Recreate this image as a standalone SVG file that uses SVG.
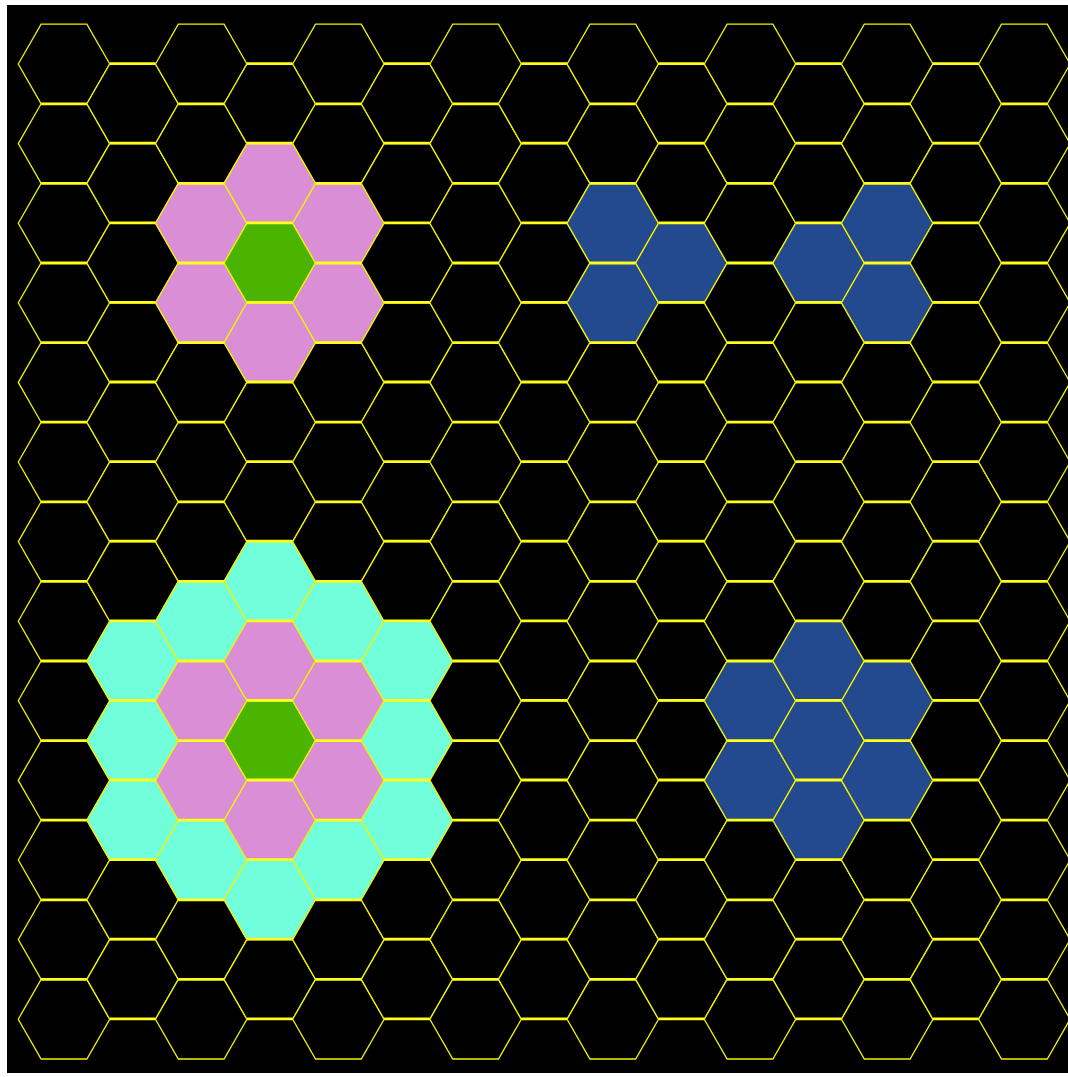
<svg xmlns="http://www.w3.org/2000/svg" xmlns:xlink="http://www.w3.org/1999/xlink" width="1068" height="1077" viewBox="0 0 1068 1077">
<style>
.k{fill:#000}.p{fill:#DA8ED6}.g{fill:#4AB400}.c{fill:#70FFDA}.b{fill:#234A8F}
.thk{fill:none;stroke:#FFFF1A;stroke-width:2.8;stroke-dasharray:45.74 91.46}
</style>
<defs>
<polygon id="h" points="-45.73,0 -22.87,-39.8 22.87,-39.8 45.73,0 22.87,39.8 -22.87,39.8" stroke="#F2F200" stroke-width="1.3" stroke-linejoin="miter"/>
</defs>
<rect x="0" y="0" width="1068" height="1077" fill="#fff"/>
<rect x="7" y="5" width="1061" height="1068" fill="#000"/>
<g id="grid">
<g id="h0-0"><use href="#h" x="64" y="64" class="k"/></g>
<g id="h0-1"><use href="#h" x="64" y="143.6" class="k"/></g>
<g id="h0-2"><use href="#h" x="64" y="223.2" class="k"/></g>
<g id="h0-3"><use href="#h" x="64" y="302.8" class="k"/></g>
<g id="h0-4"><use href="#h" x="64" y="382.4" class="k"/></g>
<g id="h0-5"><use href="#h" x="64" y="462" class="k"/></g>
<g id="h0-6"><use href="#h" x="64" y="541.6" class="k"/></g>
<g id="h0-7"><use href="#h" x="64" y="621.2" class="k"/></g>
<g id="h0-8"><use href="#h" x="64" y="700.8" class="k"/></g>
<g id="h0-9"><use href="#h" x="64" y="780.4" class="k"/></g>
<g id="h0-10"><use href="#h" x="64" y="860" class="k"/></g>
<g id="h0-11"><use href="#h" x="64" y="939.6" class="k"/></g>
<g id="h0-12"><use href="#h" x="64" y="1019.2" class="k"/></g>

<g id="h1-0"><use href="#h" x="132.6" y="103.8" class="k"/></g>
<g id="h1-1"><use href="#h" x="132.6" y="183.4" class="k"/></g>
<g id="h1-2"><use href="#h" x="132.6" y="263" class="k"/></g>
<g id="h1-3"><use href="#h" x="132.6" y="342.6" class="k"/></g>
<g id="h1-4"><use href="#h" x="132.6" y="422.2" class="k"/></g>
<g id="h1-5"><use href="#h" x="132.6" y="501.8" class="k"/></g>
<g id="h1-6"><use href="#h" x="132.6" y="581.4" class="k"/></g>
<g id="h1-7"><use href="#h" x="132.6" y="661" class="c"/></g>
<g id="h1-8"><use href="#h" x="132.6" y="740.6" class="c"/></g>
<g id="h1-9"><use href="#h" x="132.6" y="820.2" class="c"/></g>
<g id="h1-10"><use href="#h" x="132.6" y="899.8" class="k"/></g>
<g id="h1-11"><use href="#h" x="132.6" y="979.4" class="k"/></g>

<g id="h2-0"><use href="#h" x="201.2" y="64" class="k"/></g>
<g id="h2-1"><use href="#h" x="201.2" y="143.6" class="k"/></g>
<g id="h2-2"><use href="#h" x="201.2" y="223.2" class="p"/></g>
<g id="h2-3"><use href="#h" x="201.2" y="302.8" class="p"/></g>
<g id="h2-4"><use href="#h" x="201.2" y="382.4" class="k"/></g>
<g id="h2-5"><use href="#h" x="201.2" y="462" class="k"/></g>
<g id="h2-6"><use href="#h" x="201.2" y="541.6" class="k"/></g>
<g id="h2-7"><use href="#h" x="201.2" y="621.2" class="c"/></g>
<g id="h2-8"><use href="#h" x="201.2" y="700.8" class="p"/></g>
<g id="h2-9"><use href="#h" x="201.2" y="780.4" class="p"/></g>
<g id="h2-10"><use href="#h" x="201.2" y="860" class="c"/></g>
<g id="h2-11"><use href="#h" x="201.2" y="939.6" class="k"/></g>
<g id="h2-12"><use href="#h" x="201.2" y="1019.2" class="k"/></g>

<g id="h3-0"><use href="#h" x="269.8" y="103.8" class="k"/></g>
<g id="h3-1"><use href="#h" x="269.8" y="183.4" class="p"/></g>
<g id="h3-2"><use href="#h" x="269.8" y="263" class="g"/></g>
<g id="h3-3"><use href="#h" x="269.8" y="342.6" class="p"/></g>
<g id="h3-4"><use href="#h" x="269.8" y="422.2" class="k"/></g>
<g id="h3-5"><use href="#h" x="269.8" y="501.8" class="k"/></g>
<g id="h3-6"><use href="#h" x="269.8" y="581.4" class="c"/></g>
<g id="h3-7"><use href="#h" x="269.8" y="661" class="p"/></g>
<g id="h3-8"><use href="#h" x="269.8" y="740.6" class="g"/></g>
<g id="h3-9"><use href="#h" x="269.8" y="820.2" class="p"/></g>
<g id="h3-10"><use href="#h" x="269.8" y="899.8" class="c"/></g>
<g id="h3-11"><use href="#h" x="269.8" y="979.4" class="k"/></g>

<g id="h4-0"><use href="#h" x="338.4" y="64" class="k"/></g>
<g id="h4-1"><use href="#h" x="338.4" y="143.6" class="k"/></g>
<g id="h4-2"><use href="#h" x="338.4" y="223.2" class="p"/></g>
<g id="h4-3"><use href="#h" x="338.4" y="302.8" class="p"/></g>
<g id="h4-4"><use href="#h" x="338.4" y="382.4" class="k"/></g>
<g id="h4-5"><use href="#h" x="338.4" y="462" class="k"/></g>
<g id="h4-6"><use href="#h" x="338.4" y="541.6" class="k"/></g>
<g id="h4-7"><use href="#h" x="338.4" y="621.2" class="c"/></g>
<g id="h4-8"><use href="#h" x="338.4" y="700.8" class="p"/></g>
<g id="h4-9"><use href="#h" x="338.4" y="780.4" class="p"/></g>
<g id="h4-10"><use href="#h" x="338.4" y="860" class="c"/></g>
<g id="h4-11"><use href="#h" x="338.4" y="939.6" class="k"/></g>
<g id="h4-12"><use href="#h" x="338.4" y="1019.2" class="k"/></g>

<g id="h5-0"><use href="#h" x="407" y="103.8" class="k"/></g>
<g id="h5-1"><use href="#h" x="407" y="183.4" class="k"/></g>
<g id="h5-2"><use href="#h" x="407" y="263" class="k"/></g>
<g id="h5-3"><use href="#h" x="407" y="342.6" class="k"/></g>
<g id="h5-4"><use href="#h" x="407" y="422.2" class="k"/></g>
<g id="h5-5"><use href="#h" x="407" y="501.8" class="k"/></g>
<g id="h5-6"><use href="#h" x="407" y="581.4" class="k"/></g>
<g id="h5-7"><use href="#h" x="407" y="661" class="c"/></g>
<g id="h5-8"><use href="#h" x="407" y="740.6" class="c"/></g>
<g id="h5-9"><use href="#h" x="407" y="820.2" class="c"/></g>
<g id="h5-10"><use href="#h" x="407" y="899.8" class="k"/></g>
<g id="h5-11"><use href="#h" x="407" y="979.4" class="k"/></g>

<g id="h6-0"><use href="#h" x="475.6" y="64" class="k"/></g>
<g id="h6-1"><use href="#h" x="475.6" y="143.6" class="k"/></g>
<g id="h6-2"><use href="#h" x="475.6" y="223.2" class="k"/></g>
<g id="h6-3"><use href="#h" x="475.6" y="302.8" class="k"/></g>
<g id="h6-4"><use href="#h" x="475.6" y="382.4" class="k"/></g>
<g id="h6-5"><use href="#h" x="475.6" y="462" class="k"/></g>
<g id="h6-6"><use href="#h" x="475.6" y="541.6" class="k"/></g>
<g id="h6-7"><use href="#h" x="475.6" y="621.2" class="k"/></g>
<g id="h6-8"><use href="#h" x="475.6" y="700.8" class="k"/></g>
<g id="h6-9"><use href="#h" x="475.6" y="780.4" class="k"/></g>
<g id="h6-10"><use href="#h" x="475.6" y="860" class="k"/></g>
<g id="h6-11"><use href="#h" x="475.6" y="939.6" class="k"/></g>
<g id="h6-12"><use href="#h" x="475.6" y="1019.2" class="k"/></g>

<g id="h7-0"><use href="#h" x="544.2" y="103.8" class="k"/></g>
<g id="h7-1"><use href="#h" x="544.2" y="183.4" class="k"/></g>
<g id="h7-2"><use href="#h" x="544.2" y="263" class="k"/></g>
<g id="h7-3"><use href="#h" x="544.2" y="342.6" class="k"/></g>
<g id="h7-4"><use href="#h" x="544.2" y="422.2" class="k"/></g>
<g id="h7-5"><use href="#h" x="544.2" y="501.8" class="k"/></g>
<g id="h7-6"><use href="#h" x="544.2" y="581.4" class="k"/></g>
<g id="h7-7"><use href="#h" x="544.2" y="661" class="k"/></g>
<g id="h7-8"><use href="#h" x="544.2" y="740.6" class="k"/></g>
<g id="h7-9"><use href="#h" x="544.2" y="820.2" class="k"/></g>
<g id="h7-10"><use href="#h" x="544.2" y="899.8" class="k"/></g>
<g id="h7-11"><use href="#h" x="544.2" y="979.4" class="k"/></g>

<g id="h8-0"><use href="#h" x="612.8" y="64" class="k"/></g>
<g id="h8-1"><use href="#h" x="612.8" y="143.6" class="k"/></g>
<g id="h8-2"><use href="#h" x="612.8" y="223.2" class="b"/></g>
<g id="h8-3"><use href="#h" x="612.8" y="302.8" class="b"/></g>
<g id="h8-4"><use href="#h" x="612.8" y="382.4" class="k"/></g>
<g id="h8-5"><use href="#h" x="612.8" y="462" class="k"/></g>
<g id="h8-6"><use href="#h" x="612.8" y="541.6" class="k"/></g>
<g id="h8-7"><use href="#h" x="612.8" y="621.2" class="k"/></g>
<g id="h8-8"><use href="#h" x="612.8" y="700.8" class="k"/></g>
<g id="h8-9"><use href="#h" x="612.8" y="780.4" class="k"/></g>
<g id="h8-10"><use href="#h" x="612.8" y="860" class="k"/></g>
<g id="h8-11"><use href="#h" x="612.8" y="939.6" class="k"/></g>
<g id="h8-12"><use href="#h" x="612.8" y="1019.2" class="k"/></g>

<g id="h9-0"><use href="#h" x="681.4" y="103.8" class="k"/></g>
<g id="h9-1"><use href="#h" x="681.4" y="183.4" class="k"/></g>
<g id="h9-2"><use href="#h" x="681.4" y="263" class="b" stroke-width="2.4"/></g>
<g id="h9-3"><use href="#h" x="681.4" y="342.6" class="k"/></g>
<g id="h9-4"><use href="#h" x="681.4" y="422.2" class="k"/></g>
<g id="h9-5"><use href="#h" x="681.4" y="501.8" class="k"/></g>
<g id="h9-6"><use href="#h" x="681.4" y="581.4" class="k"/></g>
<g id="h9-7"><use href="#h" x="681.4" y="661" class="k"/></g>
<g id="h9-8"><use href="#h" x="681.4" y="740.6" class="k"/></g>
<g id="h9-9"><use href="#h" x="681.4" y="820.2" class="k"/></g>
<g id="h9-10"><use href="#h" x="681.4" y="899.8" class="k"/></g>
<g id="h9-11"><use href="#h" x="681.4" y="979.4" class="k"/></g>

<g id="h10-0"><use href="#h" x="750" y="64" class="k"/></g>
<g id="h10-1"><use href="#h" x="750" y="143.6" class="k"/></g>
<g id="h10-2"><use href="#h" x="750" y="223.2" class="k"/></g>
<g id="h10-3"><use href="#h" x="750" y="302.8" class="k"/></g>
<g id="h10-4"><use href="#h" x="750" y="382.4" class="k"/></g>
<g id="h10-5"><use href="#h" x="750" y="462" class="k"/></g>
<g id="h10-6"><use href="#h" x="750" y="541.6" class="k"/></g>
<g id="h10-7"><use href="#h" x="750" y="621.2" class="k"/></g>
<g id="h10-8"><use href="#h" x="750" y="700.8" class="b"/></g>
<g id="h10-9"><use href="#h" x="750" y="780.4" class="b"/></g>
<g id="h10-10"><use href="#h" x="750" y="860" class="k"/></g>
<g id="h10-11"><use href="#h" x="750" y="939.6" class="k"/></g>
<g id="h10-12"><use href="#h" x="750" y="1019.2" class="k"/></g>

<g id="h11-0"><use href="#h" x="818.6" y="103.8" class="k"/></g>
<g id="h11-1"><use href="#h" x="818.6" y="183.4" class="k"/></g>
<g id="h11-2"><use href="#h" x="818.6" y="263" class="b"/></g>
<g id="h11-3"><use href="#h" x="818.6" y="342.6" class="k"/></g>
<g id="h11-4"><use href="#h" x="818.6" y="422.2" class="k"/></g>
<g id="h11-5"><use href="#h" x="818.6" y="501.8" class="k"/></g>
<g id="h11-6"><use href="#h" x="818.6" y="581.4" class="k"/></g>
<g id="h11-7"><use href="#h" x="818.6" y="661" class="b"/></g>
<g id="h11-8"><use href="#h" x="818.6" y="740.6" class="b"/></g>
<g id="h11-9"><use href="#h" x="818.6" y="820.2" class="b"/></g>
<g id="h11-10"><use href="#h" x="818.6" y="899.8" class="k"/></g>
<g id="h11-11"><use href="#h" x="818.6" y="979.4" class="k"/></g>

<g id="h12-0"><use href="#h" x="887.2" y="64" class="k"/></g>
<g id="h12-1"><use href="#h" x="887.2" y="143.6" class="k"/></g>
<g id="h12-2"><use href="#h" x="887.2" y="223.2" class="b"/></g>
<g id="h12-3"><use href="#h" x="887.2" y="302.8" class="b"/></g>
<g id="h12-4"><use href="#h" x="887.2" y="382.4" class="k"/></g>
<g id="h12-5"><use href="#h" x="887.2" y="462" class="k"/></g>
<g id="h12-6"><use href="#h" x="887.2" y="541.6" class="k"/></g>
<g id="h12-7"><use href="#h" x="887.2" y="621.2" class="k"/></g>
<g id="h12-8"><use href="#h" x="887.2" y="700.8" class="b"/></g>
<g id="h12-9"><use href="#h" x="887.2" y="780.4" class="b"/></g>
<g id="h12-10"><use href="#h" x="887.2" y="860" class="k"/></g>
<g id="h12-11"><use href="#h" x="887.2" y="939.6" class="k"/></g>
<g id="h12-12"><use href="#h" x="887.2" y="1019.2" class="k"/></g>

<g id="h13-0"><use href="#h" x="955.8" y="103.8" class="k"/></g>
<g id="h13-1"><use href="#h" x="955.8" y="183.4" class="k"/></g>
<g id="h13-2"><use href="#h" x="955.8" y="263" class="k"/></g>
<g id="h13-3"><use href="#h" x="955.8" y="342.6" class="k"/></g>
<g id="h13-4"><use href="#h" x="955.8" y="422.2" class="k"/></g>
<g id="h13-5"><use href="#h" x="955.8" y="501.8" class="k"/></g>
<g id="h13-6"><use href="#h" x="955.8" y="581.4" class="k"/></g>
<g id="h13-7"><use href="#h" x="955.8" y="661" class="k"/></g>
<g id="h13-8"><use href="#h" x="955.8" y="740.6" class="k"/></g>
<g id="h13-9"><use href="#h" x="955.8" y="820.2" class="k"/></g>
<g id="h13-10"><use href="#h" x="955.8" y="899.8" class="k"/></g>
<g id="h13-11"><use href="#h" x="955.8" y="979.4" class="k"/></g>

<g id="h14-0"><use href="#h" x="1024.4" y="64" class="k"/></g>
<g id="h14-1"><use href="#h" x="1024.4" y="143.6" class="k"/></g>
<g id="h14-2"><use href="#h" x="1024.4" y="223.2" class="k"/></g>
<g id="h14-3"><use href="#h" x="1024.4" y="302.8" class="k"/></g>
<g id="h14-4"><use href="#h" x="1024.4" y="382.4" class="k"/></g>
<g id="h14-5"><use href="#h" x="1024.4" y="462" class="k"/></g>
<g id="h14-6"><use href="#h" x="1024.4" y="541.6" class="k"/></g>
<g id="h14-7"><use href="#h" x="1024.4" y="621.2" class="k"/></g>
<g id="h14-8"><use href="#h" x="1024.4" y="700.8" class="k"/></g>
<g id="h14-9"><use href="#h" x="1024.4" y="780.4" class="k"/></g>
<g id="h14-10"><use href="#h" x="1024.4" y="860" class="k"/></g>
<g id="h14-11"><use href="#h" x="1024.4" y="939.6" class="k"/></g>
<g id="h14-12"><use href="#h" x="1024.4" y="1019.2" class="k"/></g>
</g>
<g id="connectors" class="thk">
<path d="M109.73 63.6H1068M109.73 143.2H1068M109.73 222.8H1068M109.73 302.4H1068M109.73 382H1068M109.73 461.6H1068M109.73 541.2H1068M109.73 620.8H1068M109.73 700.4H1068M109.73 780H1068M109.73 859.6H1068M109.73 939.2H1068M109.73 1018.8H1068"/>
<path d="M41.13 103.8H1068M41.13 183.4H1068M41.13 263H1068M41.13 342.6H1068M41.13 422.2H1068M41.13 501.8H1068M41.13 581.4H1068M41.13 661H1068M41.13 740.6H1068M41.13 820.2H1068M41.13 899.8H1068M41.13 979.4H1068"/>
</g>
</svg>
